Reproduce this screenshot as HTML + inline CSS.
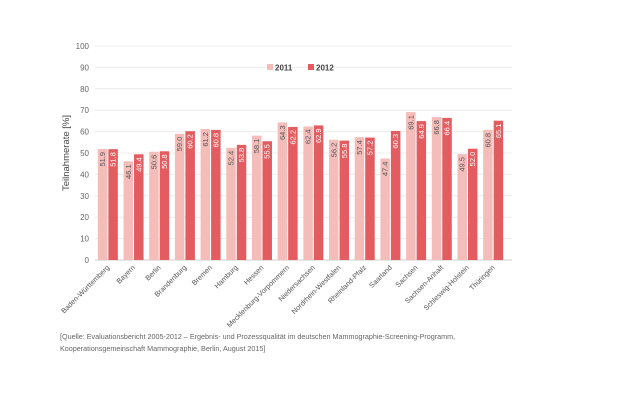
<!DOCTYPE html>
<html><head><meta charset="utf-8"><style>
body{margin:0;background:#fff;font-family:"Liberation Sans",sans-serif;}
#c{position:absolute;left:0;top:0;}
.src{position:absolute;left:60px;top:331px;font-size:7.2px;color:#666;line-height:12px;}
</style></head><body>
<svg id="c" width="630" height="412"></svg>
<div class="src">[Quelle: Evaluationsbericht 2005-2012 – Ergebnis- und Prozessqualität im deutschen Mammographie-Screening-Programm,<br>Kooperationsgemeinschaft Mammographie, Berlin, August 2015]</div>
<script>
const categories=["Baden-Württemberg","Bayern","Berlin","Brandenburg","Bremen","Hamburg","Hessen","Mecklenburg-Vorpommern","Niedersachsen","Nordrhein-Westfalen","Rheinland-Pfalz","Saarland","Sachsen","Sachsen-Anhalt","Schleswig-Holstein","Thüringen"];
const values2011=[51.9,46.1,50.6,59.0,61.2,52.4,58.1,64.3,62.4,56.2,57.4,47.4,69.1,66.8,49.5,60.8];
const values2012=[51.8,49.4,50.8,60.2,60.8,53.8,55.5,62.2,62.9,55.8,57.2,60.3,64.9,66.4,52.0,65.1];
const yTicks=[0,10,20,30,40,50,60,70,80,90,100];
const NS="http://www.w3.org/2000/svg";
const svg=document.getElementById('c');
const L=95,R=506,T=46,B=260;
const y=v=>B-(v/100)*(B-T);
const step=(R-L)/categories.length;
const xc=i=>L+step*(i+0.5);
function mk(t,a,txt){const e=document.createElementNS(NS,t);for(const k in a)e.setAttribute(k,a[k]);if(txt!==undefined)e.textContent=txt;svg.appendChild(e);return e;}
yTicks.forEach(t=>{
 const g=mk('line',{x1:L,x2:R+6,y1:y(t),y2:y(t),stroke:t===0?'#ccc':'#ececec','stroke-width':1});
 
 
 const l=mk('text',{x:89,y:y(t)+3,'text-anchor':'end','font-size':8,fill:'#666'},t);
 
 
});
const yt=mk('text',{x:0,y:0,transform:'translate(69,153) rotate(-90)','text-anchor':'middle','font-size':9.5,fill:'#444'},'Teilnahmerate [%]');


const bw=9.5;
categories.forEach((c,i)=>{
 [[values2011[i],'#f5bdb9',-bw-0.5,'#555'],[values2012[i],'#e35c5f',0.5,'#fff']].forEach(([v,col,off,tc],k)=>{
  const x=xc(i)+off;
  const r=mk('rect',{x:x,y:y(v),width:bw,height:B-y(v),fill:col});
  
  
  const lx=x+bw/2+2.5, ly=y(v)+3;
  const t=mk('text',{x:0,y:0,transform:`translate(${lx},${ly}) rotate(-90)`,'text-anchor':'end','font-size':7.5,fill:tc},v.toFixed(1));
  
  
 });
 const xl=mk('text',{x:0,y:0,transform:`translate(${xc(i)+2},${B+8}) rotate(-45)`,'text-anchor':'end','font-size':7.2,fill:'#555'},c);
 
 
});
[['2011','#f5bdb9',267],['2012','#e35c5f',308]].forEach(([n,col,x])=>{
 const s=mk('rect',{x:x,y:64,width:6,height:6,fill:col});
 
 
 const t=mk('text',{x:x+8,y:70.5,'font-size':8,fill:'#444','font-weight':'bold'},n);
 
 
});
</script>
</body></html>
